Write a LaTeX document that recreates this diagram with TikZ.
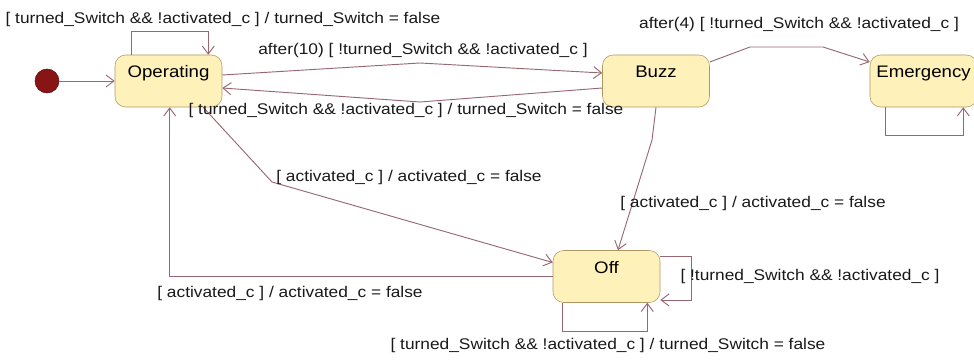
\documentclass[tikz,border=0pt]{standalone}
\usepackage{fontspec}
\setmainfont{Liberation Sans}[FakeStretch=1.12]
\usetikzlibrary{arrows.meta}
\definecolor{statefill}{RGB}{255,241,186}
\definecolor{stateedge}{RGB}{176,150,96}
\definecolor{transline}{RGB}{152,104,114}
\definecolor{initred}{RGB}{136,20,22}

\begin{document}
\begin{tikzpicture}[x=0.75pt, y=-0.75pt,
    state/.style={rectangle, rounded corners=8pt, draw=stateedge, fill=statefill, minimum width=80.25pt, minimum height=39pt, text height=9pt, text depth=14pt, font=\fontsize{12.5}{14}\selectfont},
    initial/.style={circle, draw=initred!70!black, fill=initred, minimum size=18pt, inner sep=0pt},
    trans/.style={draw=transline, line width=0.7pt, -{Straight Barb[length=6pt, width=9pt]}},
    guard/.style={font=\fontsize{11.6}{13}\selectfont, inner sep=1pt, text=black!90}
]
    \useasboundingbox (0,0) rectangle (974,360);

    % states
    \node[initial] (init) at (47,81) {};
    \node[state] (op) at (168.5,81) {Operating};
    \node[state] (buzz) at (656,81) {Buzz};
    \node[state] (emer) at (923.5,81) {Emergency};
    \node[state] (off) at (606.5,276.5) {Off};

    % bend points
    \coordinate (tobuzz) at (420,63);
    \coordinate (toop) at (420,102);
    \coordinate (upa) at (750,47);
    \coordinate (upb) at (823,47);
    \coordinate (downbuzz) at (652,140);
    \coordinate (downop) at (272,182);

    % transitions
    \draw[trans] (init) -- (op.west);
    \draw[trans] ([xshift=12.75pt]op.north west) -- ++(0,-23) -| ([xshift=-10.5pt]op.north east);
    \draw[trans] ([yshift=4.5pt]op.east) -- (tobuzz) -- ([yshift=6pt]buzz.west);
    \draw[trans] ([yshift=-5.25pt]buzz.west) -- (toop) -- ([yshift=-5.25pt]op.east);
    \draw[trans] ([yshift=14.25pt]buzz.east) -- (upa) -- (upb) -- ([yshift=14.25pt]emer.west);
    \draw[trans] ([xshift=12pt]emer.south west) -- ++(0,28) -| ([xshift=-10.5pt]emer.south east);
    \draw[trans] (buzz.south) -- (downbuzz) -- ([xshift=8.6pt]off.north);
    \draw[trans] ([xshift=26pt]op.south) -- (downop) -- ([yshift=10.5pt]off.west);
    \draw[trans] (off.west) -| ([xshift=41.25pt]op.south west);
    \draw[trans] ([yshift=15.4pt]off.east) -- ++(31,0) |- ([yshift=-17.6pt]off.east);
    \draw[trans] ([xshift=7.5pt]off.south west) -- ++(0,29) -| ([xshift=-9.75pt]off.south east);

    % guards and actions
    \node[guard] (gloop) at (223,20) {[ turned\_Switch \&\& !activated\_c ] / turned\_Switch = false};
    \node[guard] (gafter) at (423,51) {after(10) [ !turned\_Switch \&\& !activated\_c ]};
    \node[guard] (gback) at (406,111) {[ turned\_Switch \&\& !activated\_c ] / turned\_Switch = false};
    \node[guard] (gemer) at (799,25) {after(4) [ !turned\_Switch \&\& !activated\_c ]};
    \node[guard] (gbuzzoff) at (753,203) {[ activated\_c ] / activated\_c = false};
    \node[guard] (gopoff) at (409,177) {[ activated\_c ] / activated\_c = false};
    \node[guard] (goffop) at (290,293) {[ activated\_c ] / activated\_c = false};
    \node[guard] (goffright) at (810,276) {[ !turned\_Switch \&\& !activated\_c ]};
    \node[guard] (goffdown) at (608,345) {[ turned\_Switch \&\& !activated\_c ] / turned\_Switch = false};
\end{tikzpicture}
\end{document}
